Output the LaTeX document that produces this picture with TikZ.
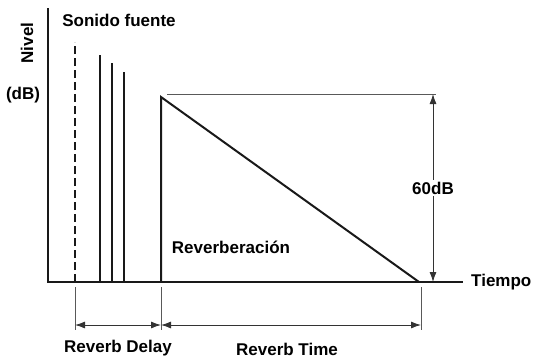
\documentclass[tikz,border=0pt]{standalone}
\usepackage{fontspec}
\setmainfont{Liberation Sans}
\usetikzlibrary{arrows.meta}
\begin{document}
\begin{tikzpicture}[x=1pt,y=-1pt,
  lbl/.style={font=\fontsize{17}{19}\selectfont\bfseries, inner sep=1pt},
  axisline/.style={line width=1.2pt, draw=black!90},
  pulse/.style={line width=2pt, draw=black!90},
  guide/.style={line width=0.8pt, draw=black!65},
  dim/.style={line width=0.9pt, draw=black!80, {Latex[length=10pt,width=7pt]}-{Latex[length=10pt,width=7pt]}}]
\useasboundingbox (0,0) rectangle (533,359);
% coordinates
\coordinate (axtop) at (48,8);
\coordinate (orig) at (48,282);
\coordinate (axend) at (463,282);
\coordinate (srcT) at (75,42);   \coordinate (srcB) at (75,282);
\coordinate (p1T) at (100,55);   \coordinate (p1B) at (100,282);
\coordinate (p2T) at (112,63);   \coordinate (p2B) at (112,282);
\coordinate (p3T) at (124,72);   \coordinate (p3B) at (124,282);
\coordinate (revT) at (161,97);  \coordinate (revB) at (161,282);
\coordinate (revE) at (419,282);
\coordinate (topL) at (167,94);  \coordinate (topR) at (436,94);
\coordinate (dbT) at (433,94);   \coordinate (dbB) at (433,282);
\coordinate (t1T) at (75,287);   \coordinate (t1B) at (75,330);
\coordinate (t2T) at (161,287);  \coordinate (t2B) at (161,330);
\coordinate (t3T) at (421,287);  \coordinate (t3B) at (421,330);
\coordinate (d1) at (75,325);
\coordinate (d2) at (161,325);
\coordinate (d3) at (421,325);
% axes
\draw[axisline] (axtop) -- (orig) -- (axend);
% source (dashed) and early reflections
\draw[pulse, dash pattern=on 8pt off 4pt] (srcB) -- (srcT);
\draw[pulse] (p1B) -- (p1T);
\draw[pulse] (p2B) -- (p2T);
\draw[pulse] (p3B) -- (p3T);
% reverberation
\draw[pulse, line join=miter] (revB) -- (revT) -- (revE);
\draw[guide] (topL) -- (topR);
% 60 dB dimension
\draw[dim] (dbT) -- (dbB) node[midway, fill=white, lbl, inner sep=2pt] (db) {60dB};
% ticks
\draw[guide] (t1T) -- (t1B);
\draw[guide] (t2T) -- (t2B);
\draw[guide] (t3T) -- (t3B);
\draw[dim] (d1) -- (d2);
\draw[dim] (d2) -- (d3);
% labels
\node[lbl] (src) at (119,20) {Sonido fuente};
\node[lbl, rotate=90] (nivel) at (27,43) {Nivel};
\node[lbl] (db2) at (23,95) {(dB)};
\node[lbl] (rev) at (231,247) {Reverberación};
\node[lbl, anchor=west] (tiempo) at (470,282) {Tiempo};
\node[lbl] (delay) at (118,348) {Reverb Delay};
\node[lbl] (rtime) at (287,349) {Reverb Time};
\end{tikzpicture}
\end{document}
